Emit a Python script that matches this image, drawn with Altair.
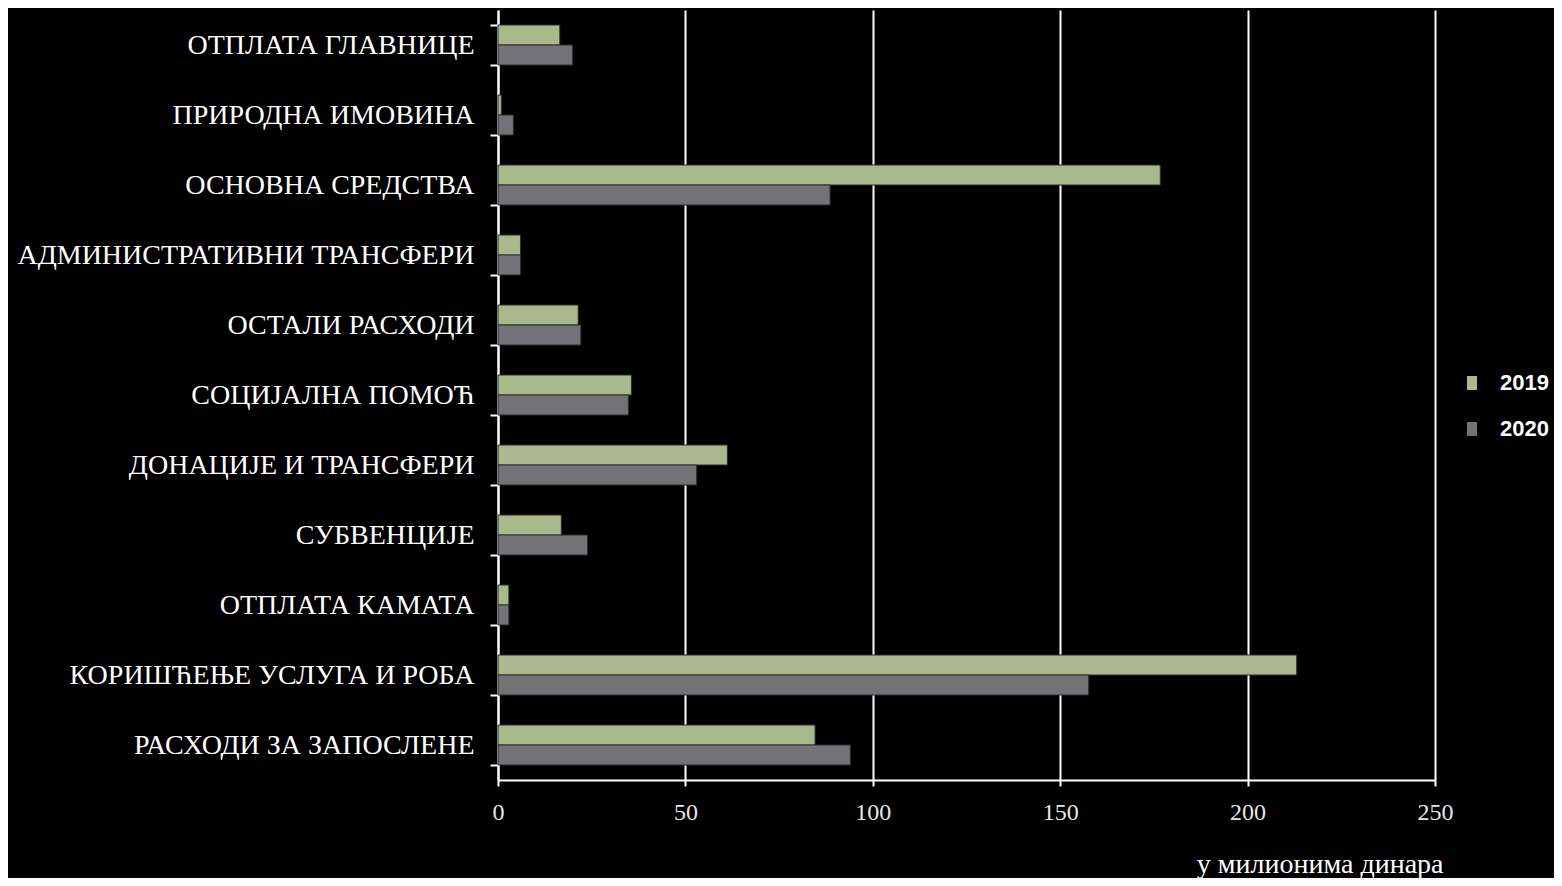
import altair as alt
import pandas as pd

categories = ["ОТПЛАТА ГЛАВНИЦЕ", "ПРИРОДНА ИМОВИНА", "ОСНОВНА СРЕДСТВА",
              "АДМИНИСТРАТИВНИ ТРАНСФЕРИ ", "ОСТАЛИ РАСХОДИ", "СОЦИЈАЛНА ПОМОЋ",
              "ДОНАЦИЈЕ И ТРАНСФЕРИ", "СУБВЕНЦИЈЕ", "ОТПЛАТА КАМАТА",
              "КОРИШЋЕЊЕ УСЛУГА И РОБА", "РАСХОДИ ЗА ЗАПОСЛЕНЕ"]
years = ["2019", "2020"]
values_2019 = [16.5, 0.9, 176.7, 6.0, 21.4, 35.6, 61.2, 16.9, 2.9, 213.1, 84.6]
values_2020 = [19.9, 4.1, 88.6, 6.0, 22.1, 34.8, 53.0, 23.9, 2.9, 157.6, 94.0]
colors = ["#A9B98B", "#737277"]
x_ticks = [0, 50, 100, 150, 200, 250]

rows = []
for c, a, b in zip(categories, values_2019, values_2020):
    rows.append({"cat": c, "year": years[0], "value": a})
    rows.append({"cat": c, "year": years[1], "value": b})
df = pd.DataFrame(rows)

serif = "Liberation Serif"

chart = alt.Chart(df).mark_bar(stroke="#2e2e2e", strokeWidth=1).encode(
    y=alt.Y("cat:N", sort=categories, title=None,
            scale=alt.Scale(paddingInner=0.4286, paddingOuter=0.2143),
            axis=alt.Axis(tickBand="extent", labelFont=serif, labelFontSize=28,
                          labelColor="#ffffff", labelPadding=16, tickSize=8,
                          tickColor="#ffffff", tickWidth=2, domainColor="#ffffff",
                          domainWidth=2, labelLimit=600, grid=False)),
    yOffset=alt.YOffset("year:N", sort=years, scale=alt.Scale(paddingInner=0, paddingOuter=0)),
    x=alt.X("value:Q", title="у милионима динара",
            scale=alt.Scale(domain=[0, 250], nice=False),
            axis=alt.Axis(values=x_ticks, grid=True, gridColor="#ffffff", gridWidth=2,
                          gridOpacity=1, domainColor="#ffffff", domainWidth=2,
                          tickColor="#ffffff", tickWidth=2, tickSize=6, labelFlush=False,
                          labelFont=serif, labelFontSize=24, labelColor="#e6e6e6",
                          labelPadding=14, titleFont=serif, titleFontSize=28,
                          titleFontWeight="normal", titleColor="#ffffff",
                          titleAnchor="end", titleAlign="right", titleBaseline="alphabetic",
                          titleX=945, titleY=92)),
    color=alt.Color("year:N", sort=years,
                    scale=alt.Scale(domain=years, range=colors),
                    legend=alt.Legend(title=None, orient="none", legendX=963, legendY=362,
                                      symbolType="M-0.72,-1H0.72V1H-0.72Z", symbolSize=196,
                                      symbolStrokeWidth=0, labelFont="Liberation Sans",
                                      labelFontWeight="bold", labelFontSize=22,
                                      labelColor="#ffffff", labelOffset=17, rowPadding=24,
                                      padding=0)),
).properties(
    width=937, height=770,
    background="#000000",
    autosize=alt.AutoSizeParams(type="none"),
    padding={"left": 490, "top": 2, "right": 119, "bottom": 98},
).configure_view(stroke=None)

chart.save("out.html", embed_options={"renderer": "svg", "actions": False})
